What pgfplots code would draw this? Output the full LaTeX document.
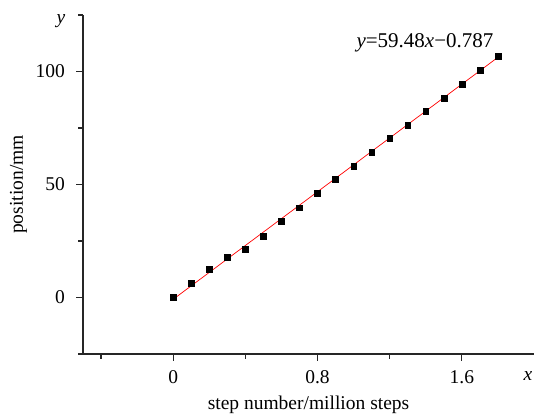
\documentclass[border=0pt]{standalone}
\usepackage{pgfplots}
\pgfplotsset{compat=1.18}
\usepackage{fontspec}
\setmainfont{Liberation Serif}
\begin{document}
\fontsize{19.5pt}{23pt}\selectfont
\begin{tikzpicture}
\useasboundingbox (0,0) rectangle (534pt,415pt);
\begin{axis}[
  at={(83pt,61pt)}, anchor=south west,
  scale only axis, width=451pt, height=339pt,
  xmin=-0.5, xmax=2.0, ymin=-25, ymax=125,
  axis lines=left,
  axis line style={-, line width=1.1pt, black!85},
  every tick/.style={line width=1.1pt, black!85},
  tick align=outside,
  major tick length=6.5pt, minor tick length=4.5pt,
  xtick={0,0.8,1.6}, minor xtick={-0.4,0.4,1.2},
  ytick={0,50,100}, minor ytick={-25,25,75,125},
  xticklabels={0,0.8,1.6},
  yticklabels={0,50,100},
  tick label style={font=\fontsize{19.5pt}{23pt}\selectfont},
  /pgf/number format/assume math mode=true,
  xticklabel style={yshift=-3pt},
  yticklabel style={xshift=-5pt},
  xlabel={step number/million steps},
  xlabel style={at={(axis description cs:0.5,0)}, anchor=center, yshift=-51pt},
  clip=false,
]
\addplot[only marks, mark=square*, mark size=2.9pt, black] coordinates {
(0,0) (0.1,6.2) (0.2,12.5) (0.3,18.0) (0.4,21.2) (0.5,27.3) (0.6,33.7)
(0.7,39.7) (0.8,46.1) (0.9,52.2) (1.0,58.2) (1.1,64.3) (1.2,70.4)
(1.3,76.2) (1.4,82.4) (1.5,88.2) (1.6,94.3) (1.7,100.4) (1.8,106.7)
};
\addplot[red, line width=0.7pt, no marks] coordinates {(0,-0.787) (1.8,106.277)};
\node[anchor=base west, inner sep=0pt, font=\fontsize{21pt}{25pt}\selectfont] at (axis cs:1.015,110.5) {\textit{y}=59.48\textit{x}−0.787};
\node[anchor=base, inner sep=0pt] at (rel axis cs:0,1) [xshift=-22pt, yshift=-9pt] {\textit{y}};
\node[anchor=base, inner sep=0pt] at (rel axis cs:1,0) [xshift=-6pt, yshift=-26pt] {\textit{x}};
\node[anchor=center, rotate=90] at ([xshift=-64.5pt]rel axis cs:0,0.5) {position/mm};
\end{axis}
\end{tikzpicture}
\end{document}
